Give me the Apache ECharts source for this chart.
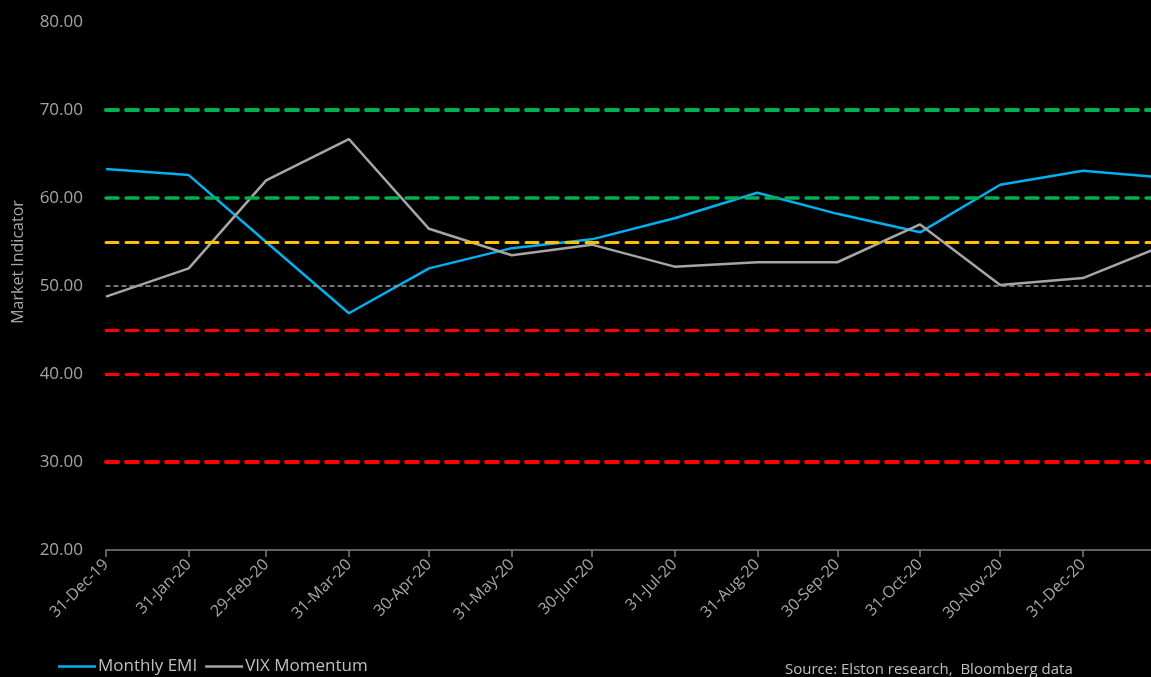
<!DOCTYPE html>
<html>
<head>
<meta charset="utf-8">
<script src="https://cdn.jsdelivr.net/npm/echarts@6/dist/echarts.min.js"></script>
<style>
html,body{margin:0;padding:0;background:#000;}
#chart{width:1151px;height:677px;}
</style>
</head>
<body>
<div id="chart"></div>
<script>
// ---- data ----
const dates = ['2019-12-31','2020-01-31','2020-02-29','2020-03-31','2020-04-30','2020-05-31','2020-06-30','2020-07-31','2020-08-31','2020-09-30','2020-10-31','2020-11-30','2020-12-31','2021-01-31'];
const tickLabels = ['31-Dec-19','31-Jan-20','29-Feb-20','31-Mar-20','30-Apr-20','31-May-20','30-Jun-20','31-Jul-20','31-Aug-20','30-Sep-20','31-Oct-20','30-Nov-20','31-Dec-20'];
const monthlyEMI = [63.3, 62.6, 55.0, 46.9, 52.0, 54.3, 55.3, 57.7, 60.6, 58.2, 56.1, 61.5, 63.1, 62.3];
const vixMomentum = [48.8, 52.0, 62.0, 66.7, 56.5, 53.5, 54.7, 52.2, 52.7, 52.7, 57.0, 50.1, 50.9, 54.7];
const refLevels = [70, 60, 55, 50, 45, 40, 30];
const refColors = ['#00b050','#00b050','#ffc000','#9a9a9a','#ff0000','#ff0000','#ff0000'];
const refWidths = [4, 3.5, 3, 1.5, 3, 3, 4];
const xMaxDate = '2021-01-25';

// days since the first date (UTC, no timezone issues)
function dayNum(s){
  const p = s.split('-').map(Number);
  return Math.round((Date.UTC(p[0], p[1]-1, p[2]) - Date.UTC(2019, 11, 31)) / 86400000);
}
const tickDays = tickLabels.map((_, i) => dayNum(dates[i]));
const labelMap = {};
tickDays.forEach((t, i) => { labelMap[t] = tickLabels[i]; });

const FONT = '"Open Sans", "Noto Sans", sans-serif';
const chart = echarts.init(document.getElementById('chart'));
chart.setOption({
  backgroundColor: '#000',
  animation: false,
  textStyle: { fontFamily: FONT },
  grid: { left: 106, right: 0, top: 22, bottom: 127, containLabel: false },
  xAxis: {
    type: 'value',
    min: 0,
    max: dayNum(xMaxDate) + 0.5,
    axisLine: { show: true, onZero: false, lineStyle: { color: '#7f7f7f', width: 1.5 } },
    axisTick: { show: true, customValues: tickDays, length: 7, lineStyle: { color: '#7f7f7f', width: 1.5 } },
    axisLabel: {
      customValues: tickDays,
      rotate: 45,
      margin: 12,
      color: '#a6a6a6',
      fontSize: 16,
      fontFamily: FONT,
      formatter: v => labelMap[Math.round(v)] || ''
    },
    splitLine: { show: false }
  },
  yAxis: {
    type: 'value',
    min: 20, max: 80, interval: 10,
    axisLine: { show: false },
    axisTick: { show: false },
    splitLine: { show: false },
    axisLabel: { color: '#a6a6a6', fontSize: 17, margin: 23, fontFamily: FONT, formatter: v => v.toFixed(2) }
  },
  legend: {
    left: 53, bottom: -3,
    icon: 'rect', itemWidth: 38, itemHeight: 2.5, itemGap: 8,
    textStyle: { color: '#bfbfbf', fontSize: 17, fontFamily: FONT, padding: [0, 0, 0, -3] },
    data: ['Monthly EMI', 'VIX Momentum']
  },
  graphic: [
    {
      type: 'text', left: 785, top: 662,
      style: { text: 'Source: Elston research,  Bloomberg data', fill: '#bfbfbf', font: '15px ' + FONT }
    },
    {
      type: 'text', x: 18, y: 262, rotation: Math.PI / 2,
      style: { text: 'Market Indicator', fill: '#a6a6a6', font: '16px ' + FONT, align: 'center', verticalAlign: 'middle' }
    }
  ],
  series: [
    {
      name: 'refs', type: 'line', data: [], silent: true,
      markLine: {
        silent: true, symbol: 'none', animation: false,
        label: { show: false },
        data: refLevels.map((v, i) => ({
          yAxis: v,
          lineStyle: { color: refColors[i], width: refWidths[i], type: i === 3 ? [4, 4] : [12, 8], cap: 'round' }
        }))
      }
    },
    {
      name: 'Monthly EMI', type: 'line', showSymbol: false, symbol: 'none', clip: true,
      color: '#00b0f0',
      lineStyle: { color: '#00b0f0', width: 2.5 },
      data: dates.map((d, i) => [dayNum(d), monthlyEMI[i]])
    },
    {
      name: 'VIX Momentum', type: 'line', showSymbol: false, symbol: 'none', clip: true,
      color: '#a6a6a6',
      lineStyle: { color: '#a6a6a6', width: 2.5 },
      data: dates.map((d, i) => [dayNum(d), vixMomentum[i]])
    }
  ]
});
</script>
</body>
</html>
